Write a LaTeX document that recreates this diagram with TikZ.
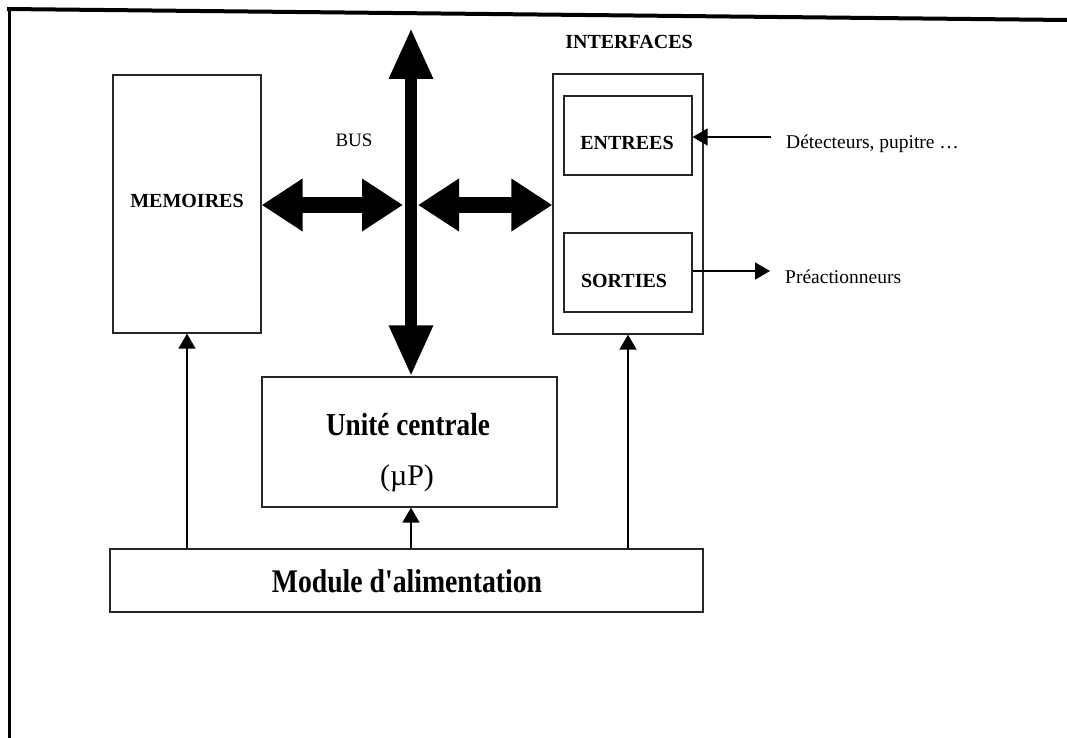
\documentclass[tikz,border=0pt]{standalone}
\usepackage{fontspec}
\setmainfont{Liberation Serif}[Ligatures=TeXOff]
\usetikzlibrary{arrows.meta,calc}
\newcommand{\condx}[2]{\scalebox{#1}[1]{#2}}
\begin{document}
\begin{tikzpicture}[x=1pt,y=-1pt,
  box/.style={draw=black!85,line width=1.3pt,rectangle,inner sep=0pt},
  lab/.style={anchor=base,inner sep=0pt},
  capbold/.style={lab,font=\fontsize{20}{24}\selectfont\bfseries},
  side/.style={inner sep=0pt,font=\fontsize{19.5}{23}\selectfont},
  thinarrow/.style={line width=1.6pt,-{Triangle[length=15pt,width=17pt]}},
  vbus/.style={line width=12pt,{Triangle[length=51pt,width=41pt]}-{Triangle[length=51pt,width=41pt]}},
  hbus/.style={line width=16pt,{Triangle[length=41pt,width=50pt]}-{Triangle[length=41pt,width=50pt]}}]
\useasboundingbox (0,0) rectangle (1067,738);
% frame
\draw[line width=4pt] (7,9) -- (1067,20);
\draw[line width=3pt] (9,8) -- (9,738);
% boxes
\node[box,minimum width=148pt,minimum height=258pt] (memo) at (187,204) {};
\node[box,minimum width=150pt,minimum height=260pt] (intf) at (628,204) {};
\node[box,minimum width=128pt,minimum height=79pt] (ent) at (628,135.5) {};
\node[box,minimum width=128pt,minimum height=79pt] (sor) at (628,272.5) {};
\node[box,minimum width=295pt,minimum height=130pt] (uc) at (409.5,442) {};
\node[box,minimum width=593pt,minimum height=63pt] (modu) at (406.5,580.5) {};
% labels
\node[capbold] (memot) at (187,207) {MEMOIRES};
\node[capbold] (intft) at (629,49) {INTERFACES};
\node[capbold] (entt) at (627,150) {ENTREES};
\node[capbold] (sort) at (624,287) {SORTIES};
\node[lab,font=\fontsize{19}{23}\selectfont] (bust) at (354,147) {BUS};
\node[lab,font=\fontsize{32}{38}\selectfont\bfseries] (uct) at (408,435) {\condx{0.85}{Unité centrale}};
\node[lab,font=\fontsize{30}{36}\selectfont] (ucp) at (407,485) {(µP)};
\node[lab,font=\fontsize{33}{40}\selectfont\bfseries] (modt) at (407,592) {\condx{0.84}{Module d'alimentation}};
\node[side,anchor=base west] (dett) at (786,149) {Détecteurs, pupitre …};
\node[side,anchor=base west] (pret) at (785,283) {Préactionneurs};
% bus
\coordinate (bustop) at (411,28);
\coordinate (busL) at (403,205);
\coordinate (busR) at (418,205);
\draw[vbus] (bustop) -- (bustop |- uc.north);
\draw[hbus] (memo.east |- busL) -- (busL);
\draw[hbus] (busR) -- (intf.west |- busR);
% side arrows
\coordinate (detc) at (771,137);
\coordinate (prec) at (770,271);
\draw[thinarrow] (detc) -- (detc -| ent.east);
\draw[thinarrow] (sor.east |- prec) -- (prec);
% power arrows
\draw[thinarrow] (modu.north -| memo.south) -- (memo.south);
\draw[thinarrow] (modu.north -| bustop) -- (uc.south -| bustop);
\draw[thinarrow] (modu.north -| intf.south) -- (intf.south);
\end{tikzpicture}
\end{document}
